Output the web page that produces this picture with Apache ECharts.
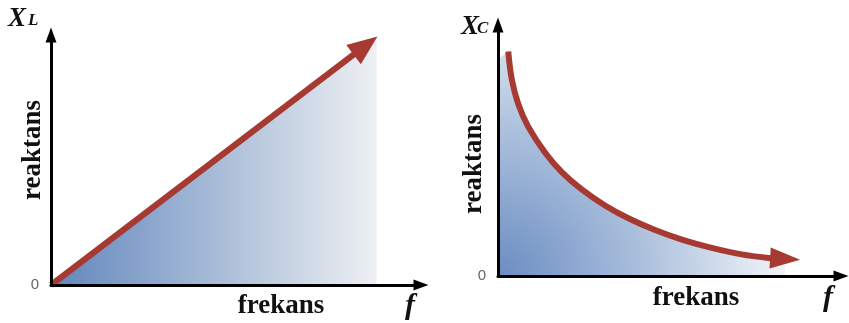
<!DOCTYPE html>
<html>
<head>
<meta charset="utf-8">
<script src="https://cdn.jsdelivr.net/npm/echarts@6/dist/echarts.min.js"></script>
<style>
  html, body { margin: 0; padding: 0; background: #fff; }
  #charts { width: 849px; height: 323px; }
</style>
</head>
<body>
<div id="charts"></div>
<script>
// inductive reactance: straight line X_L ~ f
var leftFreq = [0, 85];
var leftReact = [0, 95.8];
// shaded area under the X_L line
var leftFillFreq = [0, 88];
var leftFillReact = [0, 99];

// capacitive reactance: falling curve X_C ~ 1/f
var rightFreq = [3.0, 4.0, 5.9, 8.8, 13.7, 18.6, 24.4, 31.2, 38.0, 45.8, 53.6, 62.3, 71.0, 78.8, 83.7];
var rightReact = [89.4, 78.5, 68.5, 59.5, 49.2, 41.4, 34.5, 28.1, 23.0, 18.3, 14.5, 11.2, 8.6, 7.2, 6.8];
// shaded area starts at the y axis
var rightFillStart = [0, 86];

var yTicks = [0];

var serif = "'Liberation Serif', 'Times New Roman', serif";
var red = "#a63a32";

function pairs(xs, ys) {
  var out = [];
  for (var i = 0; i < xs.length; i++) out.push([xs[i], ys[i]]);
  return out;
}

var leftLine = pairs(leftFreq, leftReact);
var leftFill = pairs(leftFillFreq, leftFillReact);
var rightLine = pairs(rightFreq, rightReact);
var rightFill = [rightFillStart].concat(rightLine);

function axisX(idx) {
  return {
    type: "value", gridIndex: idx, min: 0, max: 100, z: 10,
    axisLine: { show: true, lineStyle: { color: "#000", width: 3 }, symbol: ["none", "triangle"], symbolSize: [11, 15] },
    axisTick: { show: false }, splitLine: { show: false }, axisLabel: { show: false }
  };
}
function axisY(idx) {
  return {
    type: "value", gridIndex: idx, min: 0, max: 100, interval: 100, z: 10,
    axisLine: { show: true, lineStyle: { color: "#000", width: 3 }, symbol: ["none", "triangle"], symbolSize: [11, 15] },
    axisTick: { show: false }, splitLine: { show: false },
    axisLabel: {
      color: "#666", fontSize: 15, margin: 12, fontFamily: "'Liberation Sans', Arial, sans-serif",
      formatter: function(v) { return yTicks.indexOf(v) >= 0 ? String(v) : ""; }
    }
  };
}

var chart = echarts.init(document.getElementById("charts"));

var option = {
  backgroundColor: "#fff",
  animation: false,
  grid: [
    { left: 51, top: 35, width: 370, height: 250 },
    { left: 498, top: 25, width: 343, height: 251 }
  ],
  xAxis: [axisX(0), axisX(1)],
  yAxis: [axisY(0), axisY(1)],
  series: [
    {
      type: "line", xAxisIndex: 0, yAxisIndex: 0, data: leftFill, symbol: "none", z: 1,
      lineStyle: { width: 0 },
      areaStyle: {
        opacity: 1,
        color: new echarts.graphic.LinearGradient(0, 0, 1, 0, [
          { offset: 0, color: "#6186bc" },
          { offset: 0.5, color: "#a7bbd7" },
          { offset: 1, color: "#eef0f3" }
        ])
      }
    },
    {
      type: "line", xAxisIndex: 0, yAxisIndex: 0, data: leftLine, symbol: "none", z: 3,
      lineStyle: { color: red, width: 6 }
    },
    {
      type: "line", xAxisIndex: 1, yAxisIndex: 1, data: rightFill, symbol: "none", z: 1,
      smooth: 0.4,
      lineStyle: { width: 0 },
      areaStyle: {
        opacity: 1,
        color: new echarts.graphic.RadialGradient(0, 1, 1.3, [
          { offset: 0, color: "#6a8dc2" },
          { offset: 0.45, color: "#a5bbda" },
          { offset: 1, color: "#f3f6fa" }
        ])
      }
    },
    {
      type: "line", xAxisIndex: 1, yAxisIndex: 1, data: rightLine, symbol: "none", z: 3,
      smooth: 0.4,
      lineStyle: { color: red, width: 6 }
    },
    {
      id: "leftHead", type: "scatter", xAxisIndex: 0, yAxisIndex: 0, z: 4,
      data: [leftLine[leftLine.length - 1]],
      symbol: "triangle", symbolSize: [24, 30], itemStyle: { color: red, opacity: 1 }
    },
    {
      id: "rightHead", type: "scatter", xAxisIndex: 1, yAxisIndex: 1, z: 4,
      data: [rightLine[rightLine.length - 1]],
      symbol: "triangle", symbolSize: [21, 30], itemStyle: { color: red, opacity: 1 }
    }
  ],
  graphic: [
    { type: "text", x: 33, y: 150, rotation: Math.PI / 2,
      style: { text: "reaktans", font: "bold 27px " + serif, fill: "#111", align: "center", verticalAlign: "middle" } },
    { type: "text", x: 281, y: 306,
      style: { text: "frekans", font: "bold 27px " + serif, fill: "#111", align: "center", verticalAlign: "middle" } },
    { type: "text", x: 410, y: 306,
      style: { text: "f", font: "italic bold 30px " + serif, fill: "#111", align: "center", verticalAlign: "middle" } },
    { type: "text", x: 8, y: 19,
      style: { text: "X", font: "italic bold 27px " + serif, fill: "#111", align: "left", verticalAlign: "middle" } },
    { type: "text", x: 28, y: 21,
      style: { text: "L", font: "italic bold 17px " + serif, fill: "#111", align: "left", verticalAlign: "middle" } },

    { type: "text", x: 474, y: 164, rotation: Math.PI / 2,
      style: { text: "reaktans", font: "bold 27px " + serif, fill: "#111", align: "center", verticalAlign: "middle" } },
    { type: "text", x: 696, y: 298,
      style: { text: "frekans", font: "bold 27px " + serif, fill: "#111", align: "center", verticalAlign: "middle" } },
    { type: "text", x: 828, y: 298,
      style: { text: "f", font: "italic bold 30px " + serif, fill: "#111", align: "center", verticalAlign: "middle" } },
    { type: "text", x: 461, y: 27,
      style: { text: "X", font: "italic bold 27px " + serif, fill: "#111", align: "left", verticalAlign: "middle" } },
    { type: "text", x: 477, y: 29,
      style: { text: "C", font: "italic bold 17px " + serif, fill: "#111", align: "left", verticalAlign: "middle" } }
  ]
};
chart.setOption(option);

// turn each arrow head along the last segment of its line
function headAngle(gridIndex, pts) {
  var a = chart.convertToPixel({ gridIndex: gridIndex }, pts[pts.length - 2]);
  var b = chart.convertToPixel({ gridIndex: gridIndex }, pts[pts.length - 1]);
  var deg = Math.atan2(-(b[1] - a[1]), b[0] - a[0]) * 180 / Math.PI;
  return deg - 90;
}
chart.setOption({
  series: [
    { id: "leftHead", symbolRotate: headAngle(0, leftLine) },
    { id: "rightHead", symbolRotate: headAngle(1, rightLine) }
  ]
});
</script>
</body>
</html>
